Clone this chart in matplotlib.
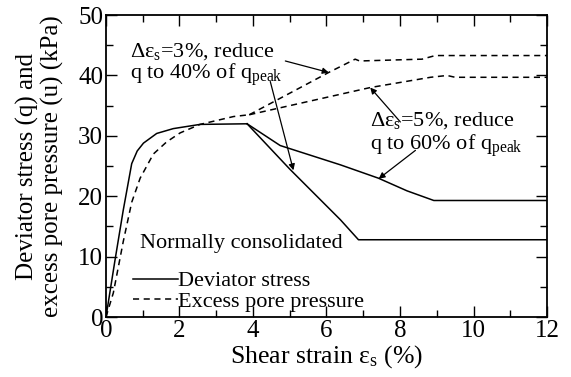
import matplotlib
matplotlib.use('Agg')
import matplotlib.pyplot as plt
from matplotlib.ticker import MultipleLocator
from matplotlib.lines import Line2D

plt.rcParams['font.family'] = ['Liberation Serif', 'DejaVu Serif']
plt.rcParams['mathtext.fontset'] = 'custom'
plt.rcParams['mathtext.rm'] = 'Liberation Serif'
plt.rcParams['mathtext.it'] = 'Liberation Serif:italic'

# deviator stress, common part up to peak
q_x = [0, 0.245, 0.47, 0.7, 0.85, 1.02, 1.38, 1.83, 2.56, 3.84]
q_y = [0, 9.4, 17.7, 25.4, 27.5, 28.8, 30.4, 31.2, 31.9, 32.0]
# softening branch, 3% -> 40% of q_peak
q3_x = [3.84, 5.0, 6.38, 6.87, 12]
q3_y = [32.0, 24.5, 16.1, 12.8, 12.8]
# softening branch, 5% -> 60% of q_peak
q5_x = [3.84, 4.74, 6.38, 7.41, 8.19, 8.92, 12]
q5_y = [32.0, 28.4, 25.2, 23.0, 20.9, 19.3, 19.3]

# excess pore pressure
u_x = [0, 0.2, 0.47, 0.7, 0.93, 1.29, 1.65, 2.02, 2.56, 3.47, 3.9]
u_y = [0, 4.0, 12.5, 19.0, 23.0, 27.0, 29.0, 30.5, 31.9, 33.2, 33.5]
u3_x = [3.9, 6.06, 6.78, 6.9, 8.6, 8.96, 12]
u3_y = [33.5, 40.5, 42.7, 42.4, 42.7, 43.3, 43.3]
u5_x = [3.9, 7.19, 8.83, 9.28, 9.5, 12]
u5_y = [33.5, 38.0, 39.7, 40.0, 39.7, 39.7]

fig = plt.figure(figsize=(5.71, 3.77), dpi=100)
ax = fig.add_axes([0.1856, 0.159, 0.7724, 0.801])

lw = 1.1
for xs, ys in [(q_x, q_y), (q3_x, q3_y), (q5_x, q5_y)]:
    ax.plot(xs, ys, color='black', lw=lw, ls='-')
for xs, ys in [(u_x, u_y), (u3_x, u3_y), (u5_x, u5_y)]:
    ax.plot(xs, ys, color='black', lw=lw, ls=(0, (4, 3)))

ax.set_xlim(0, 12)
ax.set_ylim(0, 50)
ax.xaxis.set_major_locator(MultipleLocator(2))
ax.xaxis.set_minor_locator(MultipleLocator(1))
ax.yaxis.set_major_locator(MultipleLocator(10))
ax.yaxis.set_minor_locator(MultipleLocator(5))
ax.tick_params(which='both', direction='in', top=True, right=True, labelsize=18, width=1.0)
ax.tick_params(which='major', length=8, pad=2)
ax.tick_params(which='minor', length=5)
for s in ax.spines.values():
    s.set_linewidth(1.3)

ax.set_xlabel(r'Shear strain ε$_{\rm s}$ (%)', fontsize=18.5, labelpad=1)
ax.set_ylabel('Deviator stress (q) and\nexcess pore pressure (u) (kPa)', fontsize=18,
              linespacing=1.1, labelpad=10)

fs = 16
ax.text(0.65, 44.0, r'Δε$_{\rm s}$=3%, reduce', fontsize=fs, va='center', ha='left')
ax.text(0.65, 40.1, r'q to 40% of q$_{\rm peak}$', fontsize=fs, va='center', ha='left')
ax.text(7.19, 32.6, r'Δε$_{\rm s}$=5%, reduce', fontsize=fs, va='center', ha='left')
ax.text(7.19, 28.3, r'q to 60% of q$_{\rm peak}$', fontsize=fs, va='center', ha='left')

arw = dict(arrowstyle='-|>', color='black', lw=0.9, mutation_scale=9, shrinkA=0, shrinkB=0)
ax.annotate('', xy=(6.06, 40.5), xytext=(4.88, 42.4), arrowprops=arw)
ax.annotate('', xy=(5.1, 24.3), xytext=(4.47, 39.0), arrowprops=arw)
ax.annotate('', xy=(7.19, 38.0), xytext=(8.01, 32.3), arrowprops=arw)
ax.annotate('', xy=(7.42, 22.9), xytext=(8.42, 27.6), arrowprops=arw)

ax.text(0.93, 12.2, 'Normally consolidated', fontsize=fs, va='center', ha='left')
handles = [Line2D([], [], color='black', lw=lw, ls='-'),
           Line2D([], [], color='black', lw=lw, ls=(0, (4, 3)))]
ax.legend(handles, ['Deviator stress', 'Excess pore pressure'], loc='lower left',
          bbox_to_anchor=(0.03, -0.027), frameon=False, fontsize=fs, handlelength=2.05,
          handletextpad=0.0, labelspacing=0.0, borderaxespad=0.2)

fig.savefig('out.png', dpi=100)
